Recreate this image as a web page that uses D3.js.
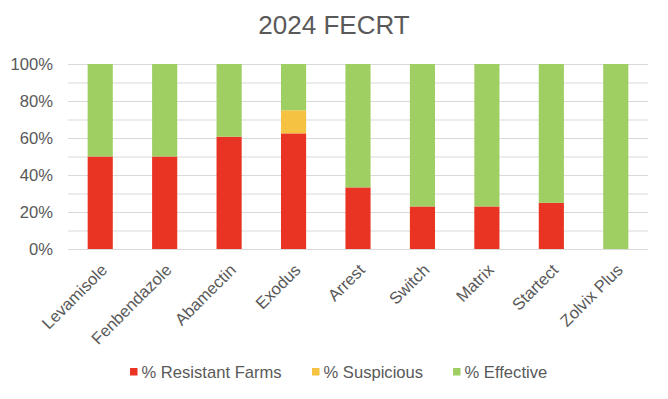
<!DOCTYPE html>
<html><head><meta charset="utf-8">
<script src="https://cdn.jsdelivr.net/npm/d3@7"></script>
<style>body{margin:0;background:#fff}svg{display:block}text{font-family:"Liberation Sans",Arial,sans-serif}</style>
</head><body><svg id="c" width="668" height="399"></svg>
<script>
const categories = ["Levamisole","Fenbendazole","Abamectin","Exodus","Arrest","Switch","Matrix","Startect","Zolvix Plus"];
const resistant  = [50, 50, 60.7, 62.5, 33.3, 23, 23, 25, 0];
const suspicious = [0, 0, 0, 12.5, 0, 0, 0, 0, 0];
const effective  = [50, 50, 39.3, 25, 66.7, 77, 77, 75, 100];
const seriesNames = ["% Resistant Farms","% Suspicious","% Effective"];
const seriesColors = ["#E93323","#F5C242","#9FCE63"];
const yTicks = [0,20,40,60,80,100];

const svg = d3.select("#c");
const x = d3.scaleBand().domain(categories).range([68,648]).paddingInner(0.61).paddingOuter(0.305);
const y = d3.scaleLinear().domain([0,100]).range([249,64]);
const FS = 16.6;

svg.append("text").attr("x",334).attr("y",34).attr("text-anchor","middle")
  .attr("font-size",26).attr("fill","#595959").text("2024 FECRT");

// gridlines
svg.append("g").selectAll("line").data(d3.range(0,101,10)).join("line")
  .attr("x1",68).attr("x2",648).attr("y1",d=>y(d)+0.5).attr("y2",d=>y(d)+0.5)
  .attr("stroke","#D9D9D9").attr("stroke-width",1);

// y axis labels
const ya = svg.append("g").attr("transform","translate(53,0)")
  .call(d3.axisLeft(y).tickValues(yTicks).tickFormat(d=>d+"%").tickSize(0).tickPadding(0));
ya.select(".domain").remove();
ya.selectAll("text").attr("font-size",FS).attr("fill","#595959").attr("font-family","Liberation Sans, Arial, sans-serif");

// stacks
const rows = categories.map((c,i)=>({cat:c, r:resistant[i], s:suspicious[i], e:effective[i]}));
const stack = d3.stack().keys(["r","s","e"])(rows);
svg.append("g").selectAll("g").data(stack).join("g").attr("fill",(d,i)=>seriesColors[i])
  .selectAll("rect").data(d=>d).join("rect")
  .attr("x",d=>x(d.data.cat)).attr("width",x.bandwidth())
  .attr("y",d=>y(d[1])).attr("height",d=>y(d[0])-y(d[1]));

// x axis labels
const xa = svg.append("g").attr("transform","translate(0,249)")
  .call(d3.axisBottom(x).tickSize(0).tickPadding(0));
xa.select(".domain").remove();
xa.selectAll("text").attr("font-size",FS).attr("fill","#595959").attr("font-family","Liberation Sans, Arial, sans-serif")
  .attr("text-anchor","end").attr("dy",0)
  .attr("transform","translate(8,22) rotate(-45)");

// legend
const legX = [130, 312, 453];
const lg = svg.append("g");
seriesNames.forEach((n,i)=>{
  lg.append("rect").attr("x",legX[i]).attr("y",368).attr("width",7.5).attr("height",7.5).attr("fill",seriesColors[i]);
  lg.append("text").attr("x",legX[i]+11.5).attr("y",378).attr("font-size",FS).attr("fill","#595959").text(n);
});
</script></body></html>
